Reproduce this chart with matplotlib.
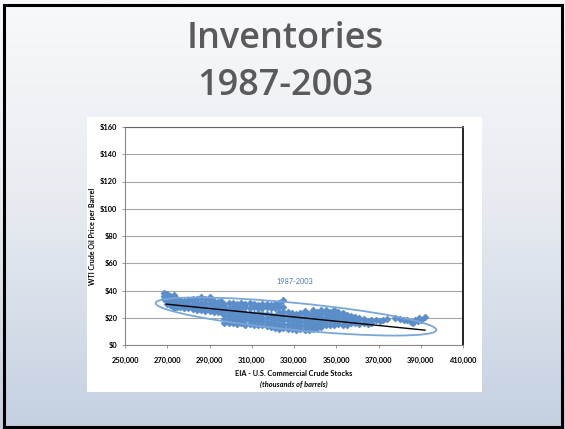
import matplotlib
matplotlib.use("Agg")
import matplotlib.pyplot as plt
import matplotlib.patches as patches
import matplotlib.transforms as mtransforms
from matplotlib.ticker import FuncFormatter
from matplotlib.colors import LinearSegmentedColormap
import numpy as np

# Data: WTI price vs. US commercial crude stocks
# stocks in thousands of barrels, prices in $/barrel (one column of points per stock level)
stock_cols = [268500, 270000, 271500, 273000, 274500, 276000, 278000, 280000,
              282000, 284000, 286000, 288000, 290000, 292000, 294000, 295500,
              297000, 299000, 301000, 303000, 305000, 307000, 309000, 311000,
              313000, 315000, 317000, 319000, 321000, 323000, 325000, 327000,
              329000, 331000, 333000, 335000, 337000, 339000, 341000, 343000,
              345000, 347000, 349000, 351000, 353000, 355000, 357000,
              359000, 361000, 363000, 365000, 366500]
price_cols = [
    [34, 36, 38], [30, 33, 35, 37.5], [29, 32, 34, 36], [27, 30, 33, 36.5],
    [28, 31, 34], [28, 30.5, 33], [27, 29.5, 32], [27, 30, 33],
    [26.5, 29, 32, 33.5], [26, 28.5, 31, 34], [25.5, 28, 31, 35], [25, 28, 30.5, 33.5],
    [25, 27.5, 30, 33, 35], [24.5, 27, 29.5, 32], [24, 26.5, 29, 31.5], [24.5, 27, 30, 32],
    [16.5, 19, 22, 25, 28, 30], [16, 18.5, 21.5, 24.5, 27.5, 30.5],
    [16, 19, 22, 25, 28, 31], [15.5, 18, 21, 24, 27, 30],
    [16, 19, 22, 25, 28, 30.5], [15, 18, 21, 23.5, 28, 30],
    [15.5, 18.5, 21.5, 23.5, 27.5, 30.5], [14.5, 17.5, 20.5, 23, 28, 30],
    [15, 18, 21, 23.5, 27, 29.5], [14.5, 17.5, 20, 23, 27.5, 30],
    [14, 17, 20, 22.5, 28, 30], [13.5, 16.5, 19.5, 22, 27, 29.5],
    [12.5, 15.5, 18.5, 21.5, 27.5, 30], [12, 15, 18, 21, 24, 28, 31],
    [12.5, 15.5, 18.5, 21.5, 24.5, 28, 33], [12, 15, 18, 21, 24],
    [11.5, 14.5, 17.5, 20.5, 23.5], [11, 14, 17, 20, 23],
    [11.5, 14.5, 17.5, 20.5, 23.5], [11, 14, 17, 20, 23, 25],
    [11, 14, 17, 20, 23], [11.5, 14.5, 17.5, 20.5, 23.5, 25.5],
    [12.5, 15.5, 18.5, 21.5, 24.5], [13.5, 16.5, 19.5, 22.5, 25.5],
    [14.5, 17.5, 20.5, 23.5, 26], [15, 18, 21, 24], [14.5, 17.5, 20.5, 23.5, 25.5],
    [15.5, 18.5, 21.5, 24], [15, 18, 21, 23.5], [14.5, 17, 19.5, 22], [16, 18.5, 21],
    [16, 18.5, 20.5], [15.5, 18, 20], [16.5, 19], [15.5, 17.5], [16.5, 18],
]
sparse_stocks = [369000, 370500, 372000, 374000, 378000, 380000, 382000, 383500,
                 385500, 386500, 387500, 388500, 389000, 390000, 392000]
sparse_prices = [18.5, 17.5, 18.5, 19, 19.5, 19, 18.5, 18,
                 17, 16.5, 18, 17.5, 19.5, 18.5, 20.5]

trend_x = [269500, 392000]
trend_y = [30.0, 10.9]

x_ticks = list(range(250000, 410001, 20000))
y_ticks = list(range(0, 161, 20))
period_label = "1987-2003"

W, H = 565, 429
fig = plt.figure(figsize=(W / 100, H / 100), dpi=100)

# slide background gradient
bg = fig.add_axes([0, 0, 1, 1], zorder=0)
cmap = LinearSegmentedColormap.from_list("slide", ["#f8f9fb", "#e6eaf0", "#c4d0e1"])
grad = np.linspace(0, 1, 256).reshape(-1, 1)
bg.imshow(grad, cmap=cmap, aspect="auto", extent=[0, W, H, 0])
bg.set_xlim(0, W)
bg.set_ylim(H, 0)
bg.axis("off")
bg.add_patch(patches.Rectangle((4, 5), 558, 422, fill=False, ec="black", lw=2.2))
bg.add_patch(patches.Rectangle((87, 117), 395, 275, fc="white", ec="none"))

for txt, yb in [("Inventories", 48), ("1987-2003", 95)]:
    fig.text(285 / W, 1 - yb / H, txt, ha="center", va="baseline",
             fontsize=26, family="Open Sans", weight="semibold", color="#5a5a5a")

ax = fig.add_axes([125 / W, 1 - 345 / H, 338 / W, 218 / H], zorder=1)
ax.set_facecolor("white")

xs = np.concatenate([[s] * len(p) for s, p in zip(stock_cols, price_cols)] + [sparse_stocks])
ys = np.concatenate([np.array(p, float) for p in price_cols] + [sparse_prices])
ax.plot(xs, ys, ls="none", marker="D", ms=3.3, color="#5b8ec8", mec="#5b8ec8", mew=0.7, zorder=3)
ax.plot(trend_x, trend_y, color="black", lw=1.0, zorder=4)

# ellipse drawn in pixel units around the cloud
trans = fig.dpi_scale_trans + mtransforms.ScaledTranslation(330950, 20.9, ax.transData)
ax.add_patch(patches.Ellipse((0, 0), 2.82, 0.27, angle=-5.5, transform=trans,
                             fill=False, ec="#7aa6d8", lw=1.3, zorder=5, clip_on=False))
ax.text(330500, 46.3, period_label, ha="center", va="center", fontsize=5.3,
        family="Lato", color="#4a78b0")

ax.set_xlim(250000, 410000)
ax.set_ylim(0, 160)
ax.set_xticks(x_ticks)
ax.set_yticks(y_ticks)
ax.xaxis.set_major_formatter(FuncFormatter(lambda v, p: f"{int(v):,}"))
ax.yaxis.set_major_formatter(FuncFormatter(lambda v, p: f"${int(v)}"))
ax.grid(axis="y", color="#a6a6a6", lw=0.8)
ax.set_axisbelow(True)
for lab in ax.get_xticklabels() + ax.get_yticklabels():
    lab.set_fontfamily("Lato")
    lab.set_fontweight("bold")
    lab.set_fontsize(5.4)
ax.tick_params(axis="both", length=2.5, width=0.6, color="#888888", pad=3)
ax.tick_params(axis="x", pad=6)
ax.spines["left"].set_color("#888888")
ax.spines["bottom"].set_color("#888888")
ax.spines["top"].set_color("#666666")
ax.spines["right"].set_color("black")
ax.spines["right"].set_linewidth(1.2)

fig.text(92 / W, 1 - 236 / H, "WTI Crude Oil Price per Barrel", rotation=90,
         ha="center", va="center", fontsize=5.1, family="Lato", weight="bold")
fig.text(294 / W, 1 - 373 / H, "EIA - U.S. Commercial Crude Stocks", ha="center",
         va="center", fontsize=5.3, family="Lato", weight="bold")
fig.text(294 / W, 1 - 384 / H, "(thousands of barrels)", ha="center", va="center",
         fontsize=5.3, family="Lato", weight="bold", style="italic")

fig.savefig("out.png", dpi=100)
